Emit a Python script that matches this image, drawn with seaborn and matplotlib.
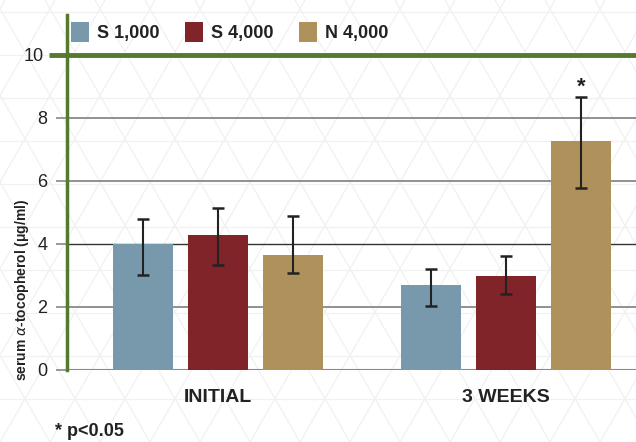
import pandas as pd
import seaborn as sns
import matplotlib.pyplot as plt
from matplotlib.transforms import ScaledTranslation

# data
groups = ['INITIAL', '3 WEEKS']
doses = ['S 1,000', 'S 4,000', 'N 4,000']
means = {
    'S 1,000': [3.98, 2.68],
    'S 4,000': [4.27, 2.97],
    'N 4,000': [3.63, 7.25],
}
err_low = {
    'S 1,000': [3.01, 2.02],
    'S 4,000': [3.33, 2.40],
    'N 4,000': [3.07, 5.76],
}
err_high = {
    'S 1,000': [4.79, 3.19],
    'S 4,000': [5.14, 3.60],
    'N 4,000': [4.88, 8.65],
}
colors = ['#7899AC', '#80242A', '#AF915C']
green = '#557A2E'

rows = []
for d in doses:
    for i, g in enumerate(groups):
        rows.append({'group': g, 'dose': d, 'value': means[d][i]})
df = pd.DataFrame(rows)

sns.set_theme(style='white')
plt.rcParams['font.family'] = ['Liberation Sans', 'DejaVu Sans']

fig = plt.figure(figsize=(6.36, 4.42), dpi=100)
ax = fig.add_axes([67 / 636, 1 - 369.5 / 442, 1 - 67 / 636, (369.5 - 54.5) / 442])

# faint triangle pattern in the background
for k in range(-20, 40):
    x0 = k * 50
    fig.add_artist(plt.Line2D([x0 / 636, (x0 + 255) / 636], [0, 1], color='#f1f1f1', lw=0.9, zorder=-5))
    fig.add_artist(plt.Line2D([x0 / 636, (x0 - 255) / 636], [0, 1], color='#f1f1f1', lw=0.9, zorder=-5))
for yy in range(0, 442, 43):
    fig.add_artist(plt.Line2D([0, 1], [yy / 442, yy / 442], color='#f1f1f1', lw=0.9, zorder=-5))

ax.patch.set_alpha(0)
sns.barplot(data=df, x='group', y='value', hue='dose', order=groups, hue_order=doses,
            palette=colors, errorbar=None, width=0.78, gap=0.2, saturation=1,
            linewidth=0, ax=ax, zorder=3, legend=True)

for cont, d in zip(ax.containers, doses):
    xs = [b.get_x() + b.get_width() / 2 for b in cont]
    lo = [m - l for m, l in zip(means[d], err_low[d])]
    hi = [h - m for m, h in zip(means[d], err_high[d])]
    ax.errorbar(xs, means[d], yerr=[lo, hi], fmt='none', ecolor='#222222',
                elinewidth=1.5, capsize=4, capthick=1.8, zorder=4)
    if d == 'N 4,000':
        ax.text(xs[1], err_high[d][1] + 0.3, '*', ha='center', va='center',
                fontsize=16, fontweight='bold', color='#222222')

ax.set_ylim(0, 10)
ax.set_xlim(-0.524, 1.451)
ax.set_yticks([0, 2, 4, 6, 8, 10])
ax.grid(axis='y', color='#888888', lw=1.3, zorder=0)
gl = ax.get_ygridlines()
gl[2].set_color('#333333')
gl[2].set_linewidth(1.0)
gl[5].set_visible(False)
ax.axhline(10, color=green, lw=3.5, zorder=5, clip_on=False)
ax.plot([-0.588, -0.524], [10, 10], color=green, lw=3.5, clip_on=False, zorder=5,
        solid_capstyle='butt')

for s in ['top', 'right', 'bottom']:
    ax.spines[s].set_visible(False)
ax.spines['left'].set_color(green)
ax.spines['left'].set_linewidth(2.5)
ax.spines['left'].set_bounds(0, 11.25)
ax.axhline(0, color='#888888', lw=1.5, zorder=2)

ax.tick_params(axis='y', length=8, width=1.2, color='#888888', labelsize=13,
               labelcolor='#222222', left=True, pad=6)
ax.tick_params(axis='x', length=0, labelsize=14, labelcolor='#222222', pad=14)
# the "10" label sits further left, past the green line
lab10 = ax.get_yticklabels()[5]
lab10.set_transform(lab10.get_transform() + ScaledTranslation(-4 / 100, 0, fig.dpi_scale_trans))
for t in ax.get_xticklabels():
    t.set_fontweight('bold')
ax.set_xlabel('')
ax.set_ylabel('')
fig.text(22 / 636, 1 - 290 / 442, r'serum $\alpha$-tocopherol (μg/ml)', rotation=90,
         ha='center', va='center', fontsize=10, fontweight='bold', color='#222222')

ax.legend(loc='center left', bbox_to_anchor=(-0.012, 1 + 22.5 / 315), ncol=3, frameon=False,
          handlelength=1.0, handleheight=1.3, handletextpad=0.45, columnspacing=1.4,
          prop={'weight': 'bold', 'size': 13}, borderaxespad=0.2)
for t in ax.get_legend().get_texts():
    t.set_color('#222222')

fig.text(55 / 636, 1 - 432 / 442, '* p<0.05', fontsize=13, fontweight='bold',
         color='#222222', va='center')

fig.savefig('out.png', dpi=100)
